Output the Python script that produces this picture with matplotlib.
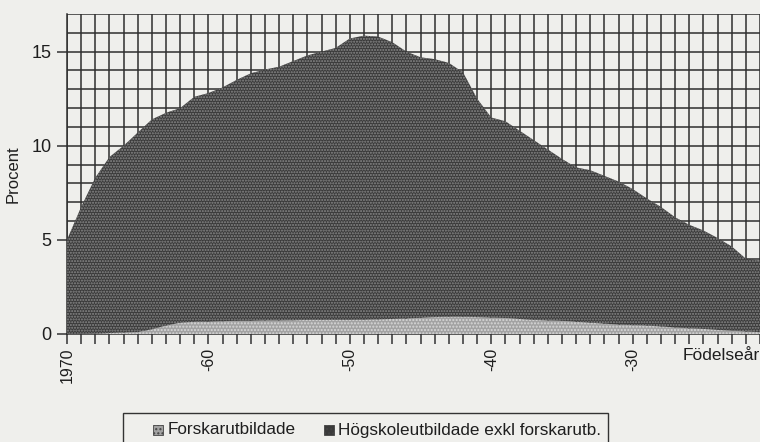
import matplotlib
matplotlib.use("Agg")
import matplotlib.pyplot as plt
from matplotlib.patches import Rectangle
import numpy as np

plt.rcParams['font.family'] = ['Liberation Sans', 'DejaVu Sans']
plt.rcParams['hatch.linewidth'] = 1.0

years = list(range(1970, 1920, -1))
forskar = [0.0, 0.02, 0.03, 0.05, 0.08, 0.1, 0.25, 0.45, 0.6, 0.65,
           0.65, 0.68, 0.7, 0.7, 0.72, 0.72, 0.73, 0.75, 0.75, 0.75,
           0.75, 0.76, 0.78, 0.8, 0.82, 0.86, 0.9, 0.92, 0.92, 0.9,
           0.87, 0.85, 0.8, 0.75, 0.72, 0.7, 0.65, 0.6, 0.55, 0.5,
           0.47, 0.45, 0.4, 0.35, 0.3, 0.27, 0.22, 0.18, 0.13, 0.1]
hogskole = [5.0, 6.73, 8.27, 9.35, 9.92, 10.6, 11.15, 11.3, 11.4, 11.95,
            12.15, 12.42, 12.8, 13.15, 13.33, 13.48, 13.77, 14.05, 14.25, 14.45,
            14.95, 15.09, 15.02, 14.7, 14.18, 13.84, 13.7, 13.48, 12.98, 11.6,
            10.63, 10.45, 10.0, 9.55, 9.08, 8.6, 8.2, 8.1, 7.85, 7.6,
            7.23, 6.75, 6.35, 5.85, 5.5, 5.23, 4.88, 4.47, 3.87, 3.8]
series_labels = ["Forskarutbildade", "Högskoleutbildade exkl forskarutb."]
major_ticks = [1970, 1960, 1950, 1940, 1930]
major_labels = ["1970", "-60", "-50", "-40", "-30"]
y_ticks = [0, 5, 10, 15]

bg = '#efefec'
txt = '#1e1e1e'
fig = plt.figure(figsize=(7.6, 4.42), dpi=100, facecolor=bg)
ax = fig.add_axes([67/760, 1-334/442, 1-67/760, (334-14)/442])
ax.set_facecolor(bg)

polys = ax.stackplot(years, forskar, hogskole, labels=series_labels,
                     colors=['#a2a2a2', '#3a3a3a'], zorder=3)
polys[0].set_hatch('.....')
polys[0].set_edgecolor('#d8d8d8')
polys[0].set_linewidth(0)
polys[1].set_hatch('......')
polys[1].set_edgecolor('#8a8a8a')
polys[1].set_linewidth(0)

ax.set_xlim(1970, 1921.2)
ax.set_ylim(0, 17)

ax.set_xticks(np.arange(1970, 1920, -1), minor=True)
ax.set_yticks(np.arange(0, 18, 1), minor=True)
ax.grid(which='minor', color='#2e2e2e', linewidth=1.1, zorder=1)
ax.grid(which='major', color='#2e2e2e', linewidth=1.1, zorder=1)
ax.set_axisbelow(True)

ax.set_xticks(major_ticks)
ax.set_xticklabels(major_labels, rotation=90, fontsize=11.5)
ax.set_yticks(y_ticks)
ax.set_yticklabels([str(v) for v in y_ticks], fontsize=13)

ax.tick_params(axis='x', which='both', direction='out', length=7, width=1.1,
               color='#333333', pad=3, labelcolor=txt)
ax.tick_params(axis='y', which='major', direction='out', length=7, width=1.1,
               color='#333333', pad=4, labelcolor=txt)
ax.tick_params(axis='y', which='minor', length=0)

for s in ['top', 'right']:
    ax.spines[s].set_visible(False)
for s in ['left', 'bottom']:
    ax.spines[s].set_color('#2e2e2e')
    ax.spines[s].set_linewidth(1.1)

ax.set_ylabel("Procent", fontsize=12, color=txt, labelpad=8)
fig.text(1.0, 1-356/442, "Födelseår", ha='right', va='center', fontsize=12.5,
         color=txt)

leg = Rectangle((123/760, 1-460/442), (608-123)/760, (460-413)/442,
                transform=fig.transFigure, facecolor='none',
                edgecolor='#333333', linewidth=1.0)
fig.add_artist(leg)
ly = 1-430/442
for (mx, tx, lab, poly) in [(153, 168, series_labels[0], polys[0]),
                            (324, 338, series_labels[1], polys[1])]:
    r = Rectangle((mx/760, ly-5/442), 10/760, 10/442, transform=fig.transFigure,
                  facecolor=poly.get_facecolor()[0], edgecolor='#444444',
                  hatch='....', linewidth=0.6)
    fig.add_artist(r)
    fig.text(tx/760, ly, lab, ha='left', va='center', fontsize=12.3,
             color=txt)

fig.savefig("out.png", dpi=100, facecolor=bg)
